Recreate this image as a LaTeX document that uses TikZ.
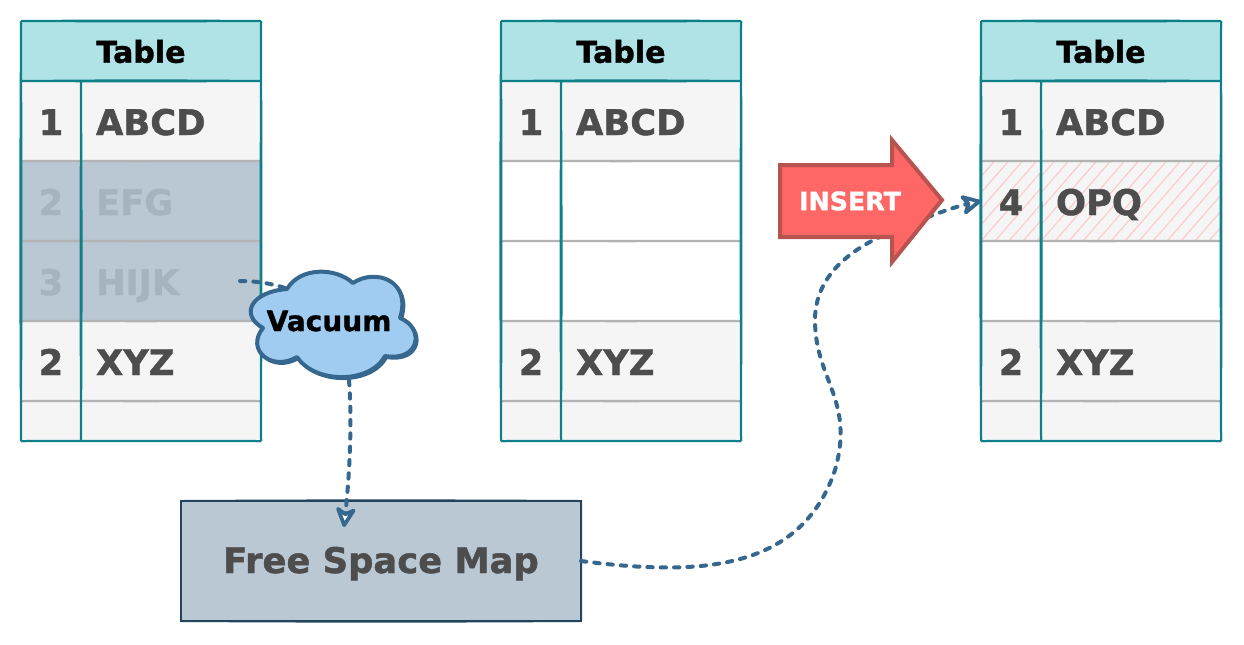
\documentclass[tikz,border=0pt]{standalone}
\usepackage{fontspec}
\setmainfont{DejaVu Sans}[BoldFeatures={FakeBold=1.3}]
\usetikzlibrary{arrows.meta,calc}
\definecolor{headfill}{HTML}{B0E3E6}
\definecolor{teal}{HTML}{0E8088}
\definecolor{rowfill}{HTML}{F5F5F5}
\definecolor{rowline}{HTML}{B3B3B3}
\definecolor{ink}{HTML}{4D4D4D}
\definecolor{fadefill}{HTML}{BAC8D3}
\definecolor{fadeink}{HTML}{A6B4C0}
\definecolor{fsmline}{HTML}{23445D}
\definecolor{flow}{HTML}{36688F}
\definecolor{cloudfill}{HTML}{9FCCF0}
\definecolor{redfill}{HTML}{FF6666}
\definecolor{redline}{HTML}{B85450}
\definecolor{hatch}{HTML}{FFC8C8}
\newcommand{\pxfont}[1]{\fontsize{#1}{#1}\selectfont\bfseries}
\newcommand{\cloudpath}{(287,289) .. controls (300,267) and (335,267) .. (353,283)
  .. controls (375,268) and (412,280) .. (400,318)
  .. controls (425,328) and (420,362) .. (385,356)
  .. controls (370,384) and (315,384) .. (297,357)
  .. controls (272,372) and (245,350) .. (263,328)
  .. controls (240,315) and (250,292) .. (287,289) -- cycle}
\tikzset{
  x=.75pt,y=-.75pt,
  cellbase/.style={anchor=north west,inner sep=0pt,outer sep=0pt,minimum height=#1*.75pt,
     text height=21pt,text depth=0pt,font=\pxfont{26.5},text=ink},
  numcell/.style={cellbase=#1,minimum width=45pt,align=center,text width=45pt},
  valcell/.style={cellbase=#1,minimum width=135pt,align=left,text width=112.5pt,inner xsep=11.25pt},
  plain/.style={fill=rowfill},
  blank/.style={fill=white},
  faded/.style={fill=fadefill,text=fadeink},
  hatched/.style={fill=rowfill,path picture={
      \foreach \i in {-6,...,22}
        \draw[hatch,line width=.8pt] ([xshift=\i*10.5pt]path picture bounding box.south west) -- ++(80,-92);}},
  headcell/.style={anchor=north west,inner sep=0pt,outer sep=0pt,minimum width=180pt,minimum height=45pt,
     fill=headfill,font=\pxfont{22.5},text=black,text height=17.6pt,text depth=0pt},
  tealline/.style={draw=teal,line width=1.5pt},
  grayline/.style={draw=rowline,line width=1.5pt},
  flowline/.style={draw=flow,line width=3pt,line cap=round,dash pattern=on 4pt off 6pt},
  tip/.style={-{Stealth[length=18pt,width=18pt,inset=5pt,round,line width=2.8pt,fill=white]}},
  fsmbox/.style={anchor=north west,fill=fadefill,draw=fsmline,line width=1.5pt,minimum width=300pt,minimum height=90pt,
     inner sep=0pt,outer sep=0pt,font=\pxfont{26.5},text=ink,text height=18pt,text depth=0pt},
}
\newcommand{\trow}[7]{%
  \node[numcell=#4,#5] (#1n) at (#2+21,#3) {#6};
  \node[valcell=#4,#5] (#1v) at (#2+81,#3) {#7};}
\newcommand{\tframe}[2]{%
  \node[headcell] (#1h) at (#2+21,21) {Table};
  \draw[tealline] (#1h.north west) to[bend left=.4] (#1h.north east);
  \draw[tealline] (#1h.north west) to[bend right=.3] (#1h.north east);
  \draw[tealline] (#1h.south west) to[bend left=.5] (#1h.south east);
  \draw[tealline] (#1h.south west) to[bend right=.3] (#1h.south east);
  \foreach \r in {2,3,4,5}
    {\draw[grayline] (#1r\r n.north west) to[bend left=.2] (#1r\r v.north east);
     \draw[grayline] (#1r\r n.north west) to[bend right=.2] (#1r\r v.north east);}
  \draw[tealline] (#1h.north west) to[bend right=.3] (#1r6n.south west);
  \draw[tealline] (#1h.north west) to[bend left=.2] (#1r6n.south west);
  \draw[tealline] (#1h.north east) to[bend left=.2] (#1r6v.south east);
  \draw[tealline] (#1h.north east) to[bend right=.15] (#1r6v.south east);
  \draw[tealline] (#1r1n.north east) to[bend left=.3] (#1r6n.south east);
  \draw[tealline] (#1r1n.north east) to[bend right=.2] (#1r6n.south east);
  \draw[tealline] (#1r6n.south west) to[bend left=.15] (#1r6v.south east);
  \draw[tealline] (#1r6n.south west) to[bend right=.15] (#1r6v.south east);}
\begin{document}
\begin{tikzpicture}
\useasboundingbox (0,0) rectangle (1244,644);
% left table
\trow{a r1}{0}{81}{80}{plain}{1}{ABCD}
\trow{a r2}{0}{161}{80}{faded}{2}{EFG}
\trow{a r3}{0}{241}{80}{faded}{3}{HIJK}
\trow{a r4}{0}{321}{80}{plain}{2}{XYZ}
\trow{a r5}{0}{401}{40}{plain}{}{}
\trow{a r6}{0}{401}{40}{plain}{}{}
\tframe{a }{0}
% middle table
\trow{b r1}{480}{81}{80}{plain}{1}{ABCD}
\trow{b r2}{480}{161}{80}{blank}{}{}
\trow{b r3}{480}{241}{80}{blank}{}{}
\trow{b r4}{480}{321}{80}{plain}{2}{XYZ}
\trow{b r5}{480}{401}{40}{plain}{}{}
\trow{b r6}{480}{401}{40}{plain}{}{}
\tframe{b }{480}
% right table
\trow{c r1}{960}{81}{80}{plain}{1}{ABCD}
\trow{c r2}{960}{161}{80}{hatched}{4}{OPQ}
\trow{c r3}{960}{241}{80}{blank}{}{}
\trow{c r4}{960}{321}{80}{plain}{2}{XYZ}
\trow{c r5}{960}{401}{40}{plain}{}{}
\trow{c r6}{960}{401}{40}{plain}{}{}
\tframe{c }{960}
% free space map
\node[fsmbox] (fsm) at (181,501) {Free Space Map};
\draw[fsmline,line width=1.5pt] (fsm.north west) to[bend left=.3] (fsm.north east);
\draw[fsmline,line width=1.5pt] (fsm.south west) to[bend right=.3] (fsm.south east);
\draw[fsmline,line width=1.5pt] (fsm.north east) to[bend left=.3] (fsm.south east);
% cloud anchors
\coordinate (cloudW) at (285,288);
\coordinate (cloudS) at (349,380);
\coordinate (fsmIn) at (344,527);
% connectors under the cloud and the arrow
\draw[flowline] (a r3n.west) ++(219,0) .. controls (255,281) and (270,283) .. (cloudW);
\draw[flowline,tip] (cloudS) .. controls (352,420) and (350,470) .. (fsmIn);
\draw[flowline,tip] (fsm.east) .. controls (690,575) and (800,575) .. (835,470)
   .. controls (855,400) and (815,380) .. (815,320)
   .. controls (815,265) and (870,240) .. (900,228)
   .. controls (925,218) and (950,208) .. (c r2n.west);
% cloud
\draw[draw=flow,line width=2.2pt,shift={(1.5,1.5)}] \cloudpath;
\filldraw[draw=flow,fill=cloudfill,line width=3pt,line join=round] \cloudpath;
\node[inner sep=0pt,font=\pxfont{21},text=black] (vac) at (329,321) {Vacuum};
% insert arrow
\filldraw[draw=redline,fill=redfill,line width=3pt,line join=miter]
  (780,165) -- (892,165) -- (892,140) -- (942,200) -- (892,262) -- (892,237) -- (780,237) -- cycle;
\node[inner sep=0pt,font=\pxfont{19},text=white] (ins) at (850,201) {INSERT};
\end{tikzpicture}
\end{document}
